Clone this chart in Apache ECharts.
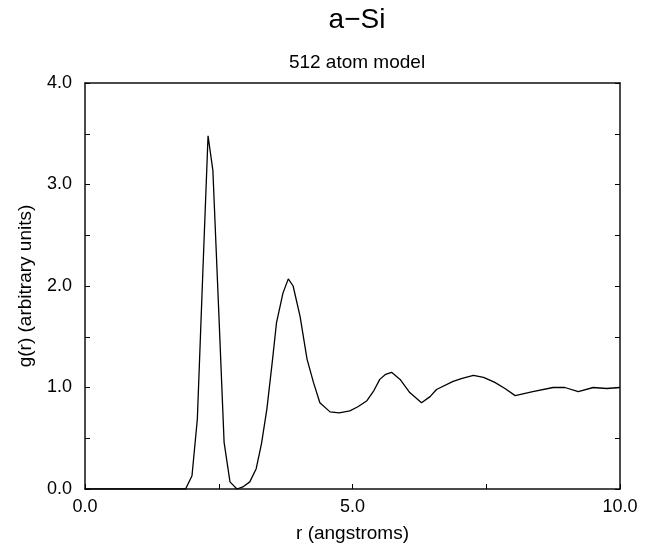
<!DOCTYPE html>
<html><head><meta charset="utf-8">
<script src="https://cdn.jsdelivr.net/npm/echarts@6/dist/echarts.min.js"></script>
<style>html,body{margin:0;padding:0;background:#fff}#c{width:664px;height:548px}</style>
</head><body><div id="c"></div>
<script>
const rValues = [0.0, 1.0, 1.88, 2.0, 2.1, 2.2, 2.3, 2.39, 2.5, 2.6, 2.71, 2.84, 2.95, 3.08, 3.2, 3.3, 3.4, 3.5, 3.58, 3.7, 3.8, 3.89, 4.02, 4.15, 4.27, 4.39, 4.58, 4.75, 4.95, 5.1, 5.27, 5.4, 5.51, 5.62, 5.73, 5.89, 6.07, 6.29, 6.45, 6.57, 6.88, 7.05, 7.26, 7.45, 7.66, 7.85, 8.04, 8.37, 8.75, 8.97, 9.22, 9.5, 9.75, 10.0];
const gValues = [0.0, 0.0, 0.0, 0.13, 0.69, 2.1, 3.48, 3.14, 1.75, 0.46, 0.07, 0.0, 0.02, 0.07, 0.2, 0.45, 0.79, 1.25, 1.64, 1.93, 2.07, 2.0, 1.70, 1.28, 1.05, 0.85, 0.76, 0.75, 0.77, 0.81, 0.87, 0.97, 1.08, 1.13, 1.15, 1.08, 0.95, 0.85, 0.91, 0.98, 1.06, 1.09, 1.12, 1.1, 1.05, 0.99, 0.92, 0.96, 1.0, 1.0, 0.96, 1.0, 0.99, 1.0];
const xTicks = [0, 5, 10];
const yTicks = [0, 1, 2, 3, 4];
const titleText = 'a\u2212Si';
const subtitleText = '512 atom model';
const xName = 'r (angstroms)';
const yName = 'g(r) (arbitrary units)';

const font = 'Liberation Sans, Arial, sans-serif';
const chart = echarts.init(document.getElementById('c'));
const pts = rValues.map((r, i) => [r, gValues[i]]);
const borderLine = {show: true, onZero: false, lineStyle: {color: '#111', width: 1.5}};
chart.setOption({
  animation: false,
  backgroundColor: '#fff',
  title: [
    {text: titleText, left: 352, top: 1, textAlign: 'center', textStyle: {fontFamily: font, fontSize: 28, fontWeight: 'normal', color: '#000'}},
    {text: subtitleText, left: 352, top: 48, textAlign: 'center', textStyle: {fontFamily: font, fontSize: 19, fontWeight: 'normal', color: '#000'}}
  ],
  grid: {left: 85, right: 44, top: 83, bottom: 58, containLabel: false},
  xAxis: [
    {type: 'value', min: 0, max: 10, interval: 2.5, position: 'bottom',
     name: xName, nameLocation: 'middle', nameGap: 35,
     nameTextStyle: {fontFamily: font, fontSize: 19, color: '#000'},
     axisLine: borderLine,
     axisTick: {show: true, inside: true, length: 5, lineStyle: {color: '#000'}},
     axisLabel: {fontFamily: font, fontSize: 18, color: '#000', margin: 9,
       formatter: v => xTicks.includes(v) ? v.toFixed(1) : ''},
     splitLine: {show: false}},
    {type: 'value', min: 0, max: 10, interval: 2.5, position: 'top',
     axisLine: borderLine,
     axisTick: {show: false}, axisLabel: {show: false}, splitLine: {show: false}}
  ],
  yAxis: [
    {type: 'value', min: 0, max: 4, interval: 0.5, position: 'left',
     name: yName, nameLocation: 'middle', nameGap: 50,
     nameTextStyle: {fontFamily: font, fontSize: 19, color: '#000'},
     axisLine: borderLine,
     axisTick: {show: true, inside: true, length: 5, lineStyle: {color: '#000'}},
     axisLabel: {fontFamily: font, fontSize: 18, color: '#000', margin: 13,
       formatter: v => yTicks.includes(v) ? v.toFixed(1) : ''},
     splitLine: {show: false}},
    {type: 'value', min: 0, max: 4, interval: 0.5, position: 'right',
     axisLine: borderLine,
     axisTick: {show: true, inside: true, length: 5, lineStyle: {color: '#000'}},
     axisLabel: {show: false}, splitLine: {show: false}}
  ],
  series: [{type: 'line', data: pts, xAxisIndex: 0, yAxisIndex: 0, showSymbol: false, symbol: 'none',
    lineStyle: {color: '#000', width: 1.3}, smooth: false}]
});
</script></body></html>
